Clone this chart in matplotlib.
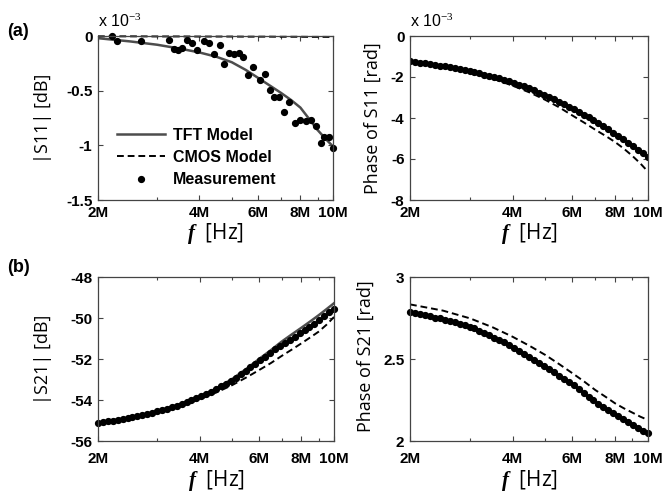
import matplotlib
matplotlib.use("Agg")
import matplotlib.pyplot as plt
from matplotlib.ticker import FixedLocator, FixedFormatter, NullFormatter

plt.rcParams['mathtext.fontset'] = 'custom'
plt.rcParams['mathtext.it'] = 'Liberation Serif:italic:bold'
plt.rcParams['mathtext.rm'] = 'Liberation Serif'

# ---------------- data ----------------
# frequency grid for model curves (MHz)
f_model = [2.0, 2.5, 3.0, 3.5, 4.0, 4.5, 5.0, 5.5, 6.0, 6.5, 7.0, 7.5, 8.0, 8.5, 9.0, 9.5, 10.0]

# (a) |S11| (x1e-3 dB)
s11_mag_tft = [-0.02, -0.05, -0.08, -0.115, -0.15, -0.19, -0.24, -0.31, -0.385, -0.455,
               -0.52, -0.585, -0.655, -0.76, -0.86, -0.94, -1.01]
s11_mag_cmos = [-0.003, -0.003, -0.004, -0.004, -0.005, -0.005, -0.005, -0.006, -0.006, -0.006,
                -0.007, -0.007, -0.007, -0.008, -0.008, -0.008, -0.009]
f_meas_s11 = [2.20, 2.28, 2.69, 3.25, 3.37, 3.46, 3.56, 3.68, 3.82, 3.95, 4.13, 4.28, 4.43, 4.61,
              4.74, 4.91, 5.06, 5.25, 5.41, 5.60, 5.80, 6.07, 6.28, 6.50, 6.68, 6.91, 7.14, 7.42,
              7.72, 7.98, 8.30, 8.60, 8.90, 9.22, 9.42, 9.74, 10.0]
s11_mag_meas = [0.0, -0.043, -0.043, -0.037, -0.122, -0.128, -0.113, -0.037, -0.061, -0.128,
                -0.043, -0.067, -0.165, -0.082, -0.259, -0.159, -0.165, -0.159, -0.189, -0.357,
                -0.281, -0.403, -0.348, -0.494, -0.555, -0.555, -0.692, -0.601, -0.793, -0.768,
                -0.778, -0.768, -0.823, -0.982, -0.921, -0.927, -1.02]

# dense measurement frequency grid (MHz)
f_meas = [2.000, 2.068, 2.139, 2.212, 2.287, 2.365, 2.446, 2.529, 2.616, 2.705, 2.797, 2.893,
          2.991, 3.093, 3.199, 3.308, 3.421, 3.537, 3.658, 3.783, 3.912, 4.045, 4.183, 4.326,
          4.472, 4.625, 4.783, 4.946, 5.114, 5.289, 5.469, 5.656, 5.849, 6.048, 6.255, 6.468,
          6.689, 6.917, 7.153, 7.397, 7.649, 7.910, 8.180, 8.459, 8.748, 9.046, 9.355, 9.674, 10.000]

# Phase of S11 (x1e-3 rad)
s11_ph_tft = [-1.24, -1.47, -1.72, -1.98, -2.26, -2.57, -2.90, -3.23, -3.55, -3.86, -4.16,
              -4.47, -4.77, -5.06, -5.34, -5.62, -5.90]
s11_ph_cmos = [-1.24, -1.50, -1.78, -2.08, -2.42, -2.76, -3.12, -3.49, -3.88, -4.23, -4.57,
               -4.87, -5.17, -5.50, -5.85, -6.22, -6.62]
s11_ph_meas = [-1.24, -1.27, -1.30, -1.34, -1.37, -1.41, -1.45, -1.48, -1.53, -1.57, -1.62, -1.67,
               -1.72, -1.77, -1.82, -1.88, -1.94, -2.00, -2.07, -2.14, -2.21, -2.29, -2.37, -2.46,
               -2.55, -2.65, -2.76, -2.86, -2.98, -3.09, -3.21, -3.33, -3.45, -3.58, -3.71, -3.84,
               -3.97, -4.11, -4.25, -4.41, -4.56, -4.72, -4.87, -5.04, -5.20, -5.37, -5.54, -5.72, -5.90]

# (b) |S21| (dB)
s21_mag_tft = [-55.1, -54.85, -54.55, -54.2, -53.84, -53.42, -52.97, -52.48, -52.0, -51.57,
               -51.15, -50.8, -50.48, -50.17, -49.87, -49.57, -49.28]
s21_mag_cmos = [-55.1, -54.87, -54.6, -54.3, -53.97, -53.62, -53.27, -52.9, -52.54, -52.2,
                -51.85, -51.54, -51.24, -50.95, -50.67, -50.33, -49.95]
s21_mag_meas = [-55.10, -55.07, -55.03, -55.00, -54.96, -54.92, -54.88, -54.83, -54.78, -54.72,
                -54.67, -54.61, -54.55, -54.49, -54.42, -54.35, -54.27, -54.19, -54.10, -54.01,
                -53.92, -53.82, -53.71, -53.60, -53.47, -53.34, -53.21, -53.07, -52.92, -52.75,
                -52.58, -52.41, -52.23, -52.06, -51.89, -51.72, -51.53, -51.35, -51.21, -51.06,
                -50.91, -50.75, -50.60, -50.44, -50.28, -50.10, -49.91, -49.73, -49.55]

# Phase of S21 (rad)
s21_ph_tft = [2.785, 2.742, 2.697, 2.636, 2.575, 2.51, 2.449, 2.396, 2.346, 2.291, 2.24,
              2.199, 2.165, 2.132, 2.098, 2.071, 2.047]
s21_ph_cmos = [2.833, 2.795, 2.748, 2.693, 2.636, 2.579, 2.524, 2.467, 2.413, 2.362, 2.311,
               2.270, 2.230, 2.199, 2.173, 2.148, 2.128]
s21_ph_meas = [2.785, 2.779, 2.773, 2.767, 2.760, 2.753, 2.747, 2.739, 2.732, 2.724, 2.715, 2.707,
               2.698, 2.686, 2.673, 2.659, 2.645, 2.631, 2.617, 2.602, 2.586, 2.569, 2.551, 2.533,
               2.514, 2.495, 2.475, 2.456, 2.437, 2.418, 2.399, 2.380, 2.361, 2.341, 2.318, 2.294,
               2.271, 2.248, 2.227, 2.207, 2.189, 2.171, 2.153, 2.135, 2.115, 2.095, 2.079, 2.063, 2.047]

xtick_vals = [2, 4, 6, 8, 10]
xtick_labels = ['2M', '4M', '6M', '8M', '10M']
xminor_vals = [3, 5, 7, 9]

# ---------------- figure ----------------
fig = plt.figure(figsize=(6.65, 4.98), dpi=100)
W, H = 665.0, 498.0

def make_ax(l, r, t, b):
    return fig.add_axes([l / W, 1 - b / H, (r - l) / W, (b - t) / H])

ax_tl = make_ax(98, 333, 36, 200)
ax_tr = make_ax(410, 648, 36, 200)
ax_bl = make_ax(98, 334, 277, 441)
ax_br = make_ax(410, 648, 277, 441)

tick_font = dict(family='Liberation Sans', weight='bold', size=11)
label_font = dict(family='Open Sans', size=13)

TFT_C = '#4d4d4d'
DASH = (0, (3.5, 2))

def style(ax, ylim, yticks, yticklabels, ylabel, xpad):
    ax.set_xscale('log')
    ax.set_xlim(2, 10)
    ax.set_ylim(*ylim)
    ax.xaxis.set_major_locator(FixedLocator(xtick_vals))
    ax.xaxis.set_major_formatter(FixedFormatter(xtick_labels))
    ax.xaxis.set_minor_locator(FixedLocator(xminor_vals))
    ax.xaxis.set_minor_formatter(NullFormatter())
    ax.set_yticks(yticks)
    ax.set_yticklabels(yticklabels)
    ax.tick_params(which='both', direction='in', top=True, right=True, color='#444444', width=0.8)
    ax.tick_params(which='major', length=3.5)
    ax.tick_params(which='minor', length=2.5)
    ax.tick_params(axis='x', pad=xpad)
    ax.tick_params(axis='y', pad=4)
    for lab in ax.get_xticklabels() + ax.get_yticklabels():
        lab.set_fontfamily(tick_font['family'])
        lab.set_fontweight(tick_font['weight'])
        lab.set_fontsize(tick_font['size'])
    for sp in ax.spines.values():
        sp.set_color('#444444')
        sp.set_linewidth(0.9)
    ax.set_ylabel(ylabel, **label_font)
    ax.set_xlabel(r'$f$  [Hz]', family='Open Sans', size=15, va='center')

# (a) |S11|
ax_tl.plot(f_model, s11_mag_tft, color=TFT_C, lw=1.8, label='TFT Model')
ax_tl.plot(f_model, s11_mag_cmos, color='black', lw=1.4, ls=DASH, label='CMOS Model', clip_on=False)
ax_tl.plot(f_meas_s11, s11_mag_meas, ls='none', marker='o', ms=4.2, color='black', label='Measurement', clip_on=False)
style(ax_tl, (-1.5, 0), [-1.5, -1, -0.5, 0], ['-1.5', '-1', '-0.5', '0'], '|S11| [dB]', 4)
leg = ax_tl.legend(loc='upper left', bbox_to_anchor=(0.08, 0.44), frameon=False,
                   borderpad=0, borderaxespad=0,
                   handlelength=3.0, handletextpad=0.5, labelspacing=0.45,
                   prop=dict(family='Liberation Sans', weight='bold', size=11.5))

# Phase S11
ax_tr.plot(f_model, s11_ph_tft, color=TFT_C, lw=1.8)
ax_tr.plot(f_model, s11_ph_cmos, color='black', lw=1.4, ls=DASH)
ax_tr.plot(f_meas, s11_ph_meas, ls='none', marker='o', ms=4.2, color='black')
style(ax_tr, (-8, 0), [-8, -6, -4, -2, 0], ['-8', '-6', '-4', '-2', '0'], 'Phase of S11 [rad]', 4)

# |S21|
ax_bl.plot(f_model, s21_mag_tft, color=TFT_C, lw=1.8)
ax_bl.plot(f_model, s21_mag_cmos, color='black', lw=1.4, ls=DASH)
ax_bl.plot(f_meas, s21_mag_meas, ls='none', marker='o', ms=4.2, color='black', clip_on=False)
style(ax_bl, (-56, -48), [-56, -54, -52, -50, -48], ['-56', '-54', '-52', '-50', '-48'], '|S21| [dB]', 8)

# Phase S21
ax_br.plot(f_model, s21_ph_tft, color=TFT_C, lw=1.8)
ax_br.plot(f_model, s21_ph_cmos, color='black', lw=1.4, ls=DASH)
ax_br.plot(f_meas, s21_ph_meas, ls='none', marker='o', ms=4.2, color='black', clip_on=False)
style(ax_br, (2, 3), [2, 2.5, 3], ['2', '2.5', '3'], 'Phase of S21 [rad]', 8)

# label positions
ax_tl.yaxis.set_label_coords(-0.196, 0.5)
ax_bl.yaxis.set_label_coords(-0.196, 0.5)
ax_tr.yaxis.set_label_coords(-0.118, 0.5)
ax_br.yaxis.set_label_coords(-0.15, 0.52)
ax_tl.xaxis.set_label_coords(0.5, -0.205)
ax_tr.xaxis.set_label_coords(0.5, -0.205)
ax_bl.xaxis.set_label_coords(0.5, -0.24)
ax_br.xaxis.set_label_coords(0.5, -0.24)

# exponent labels
fig.text(98 / W, 1 - 21 / H, r'x 10$^{-3}$', fontfamily='Liberation Sans', fontsize=11.5, va='center', ha='left')
fig.text(410 / W, 1 - 21 / H, r'x 10$^{-3}$', fontfamily='Liberation Sans', fontsize=11.5, va='center', ha='left')

# panel labels
fig.text(7 / W, 1 - 32 / H, '(a)', fontfamily='Liberation Sans', fontweight='bold', fontsize=13, va='center')
fig.text(7 / W, 1 - 267 / H, '(b)', fontfamily='Liberation Sans', fontweight='bold', fontsize=13, va='center')

fig.savefig('out.png', dpi=100)
